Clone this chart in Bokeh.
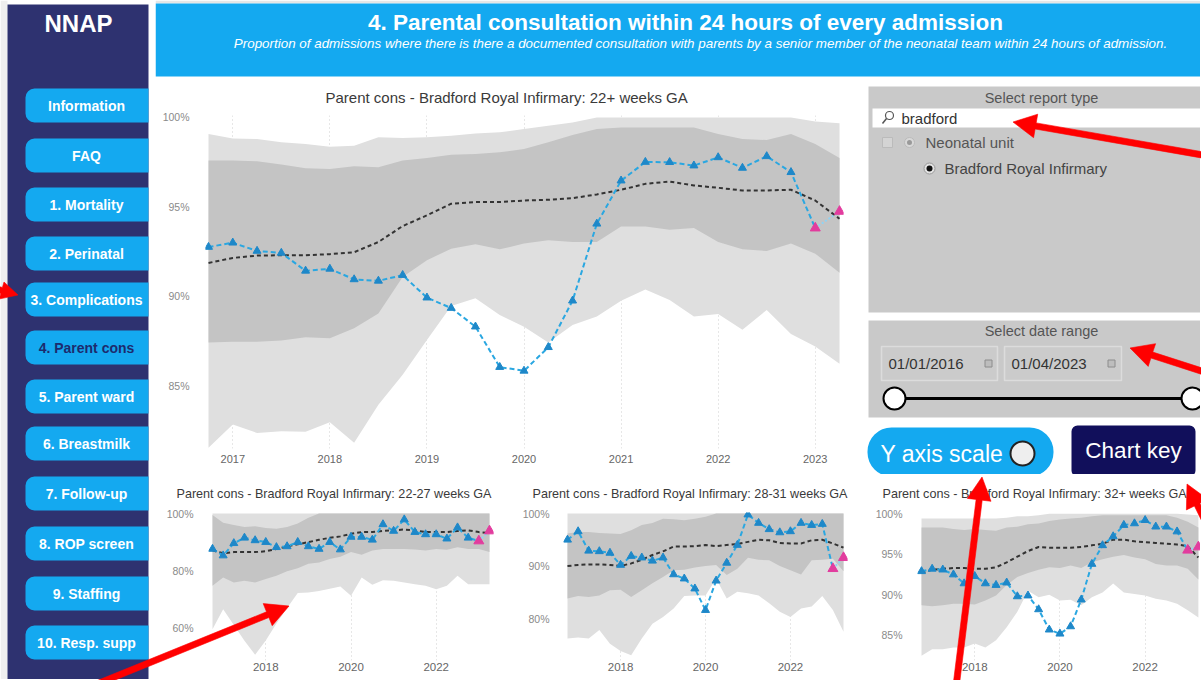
import math
from bokeh.plotting import figure
from bokeh.models import Range1d, FixedTicker, PrintfTickFormatter, Div
from bokeh.layouts import row, column
from bokeh.embed import file_html
from bokeh.resources import INLINE
from bokeh.core.properties import value

FONT = "Liberation Sans"

# ---------------- data ----------------
quarters = ["2016-10", "2017-01", "2017-04", "2017-07", "2017-10", "2018-01", "2018-04",
            "2018-07", "2018-10", "2019-01", "2019-04", "2019-07", "2019-10", "2020-01",
            "2020-04", "2020-07", "2020-10", "2021-01", "2021-04", "2021-07", "2021-10",
            "2022-01", "2022-04", "2022-07", "2022-10", "2023-01", "2023-04"]
flagged_from = "2023-01"

# 22+ weeks GA
all_unit = [92.76, 93.0, 92.54, 92.43, 91.43, 91.54, 90.95, 90.87, 91.19, 89.93, 89.35, 88.31, 86.05,
            85.84, 87.16, 89.76, 94.06, 96.47, 97.51, 97.50, 97.31, 97.77, 97.18, 97.83, 96.94, 93.82, 94.75]
all_nat = [91.87, 92.15, 92.28, 92.30, 92.30, 92.36, 92.47, 93.04, 93.93, 94.53, 95.18, 95.27, 95.27,
           95.36, 95.40, 95.49, 95.70, 95.96, 96.29, 96.42, 96.20, 96.07, 95.92, 95.92, 95.96, 95.36, 94.34]
all_in_hi = [97.59, 97.59, 97.55, 97.37, 97.16, 97.12, 97.27, 97.22, 97.59, 97.74, 97.92, 97.96, 98.05,
             98.24, 98.61, 99.02, 99.35, 99.44, 99.44, 99.44, 99.44, 99.07, 98.79, 98.74, 99.07, 98.52, 97.74]
all_in_lo = [87.42, 87.46, 87.46, 87.53, 87.72, 87.66, 88.22, 89.05, 91.09, 92.02, 92.67, 92.91, 92.63,
             92.95, 93.14, 93.04, 93.04, 93.91, 93.91, 93.73, 93.82, 93.04, 92.63, 92.54, 92.95, 92.39, 91.32]
all_out_hi = [99.07, 98.83, 98.79, 98.61, 98.52, 98.37, 98.42, 98.89, 98.85, 98.89, 98.98, 99.11, 99.17,
              99.35, 99.54, 99.72, 100.0, 100.0, 100.0, 100.0, 100.0, 100.0, 100.0, 100.0, 100.0, 99.78, 99.67]
all_out_lo = [81.54, 82.84, 82.37, 82.47, 82.43, 82.97, 81.82, 83.95, 85.62, 87.57, 89.46, 89.89, 88.96,
              88.31, 87.42, 88.40, 88.87, 89.76, 90.39, 89.80, 88.87, 89.02, 88.13, 89.24, 87.90, 87.20, 86.23]

# 22-27 weeks GA
g1_unit = [87.6, 85.3, 89.6, 91.5, 90.6, 90.0, 88.2, 88.5, 90.0, 88.5, 87.6, 90.0, 87.4, 91.8,
           91.8, 90.8, 96.2, 93.9, 97.9, 93.5, 92.7, 92.7, 91.2, 95.1, 91.5, 90.4, 93.9]
g1_nat = [87.1, 86.1, 86.5, 86.5, 86.5, 86.8, 87.6, 88.5, 89.2, 90.0, 90.8, 91.5, 92.0, 92.9,
          93.5, 93.5, 93.9, 94.1, 94.4, 94.1, 93.5, 93.5, 93.5, 93.9, 94.1, 93.5, 93.2]
g1_in_hi = [99.5, 96.8, 96.0, 95.3, 95.5, 94.9, 94.7, 95.3, 96.5, 98.5, 100, 100, 100, 100,
            100, 100, 100, 100, 100, 100, 100, 100, 100, 100, 100, 100, 100]
g1_in_lo = [74.7, 77.6, 75.9, 76.5, 75.9, 77.1, 78.2, 79.8, 80.9, 82.4, 82.9, 84.1, 84.9, 86.5,
            85.6, 87.1, 87.6, 87.6, 87.6, 87.4, 87.1, 87.6, 87.3, 88.2, 87.6, 87.6, 86.5]
g1_out_hi = [100, 100, 100, 100, 100, 100, 100, 100, 100, 100, 100, 100, 100, 100,
             100, 100, 100, 100, 100, 100, 100, 100, 100, 100, 100, 100, 100]
g1_out_lo = [59.5, 66.5, 61.0, 55.5, 50.6, 55.6, 61.5, 67.0, 72.2, 72.4, 72.9, 73.7, 74.5, 71.2,
             77.6, 75.1, 76.7, 76.5, 75.9, 75.3, 74.7, 73.5, 74.7, 78.2, 75.3, 75.3, 75.3]

# 28-31 weeks GA
g2_unit = [95.0, 96.6, 92.9, 92.8, 92.5, 90.2, 91.9, 91.6, 91.0, 91.6, 88.4, 87.6, 85.7, 81.6,
           87.2, 90.6, 94.0, 99.8, 98.2, 97.0, 96.4, 96.6, 98.2, 97.8, 98.0, 89.5, 91.6]
g2_nat = [90.0, 90.2, 90.3, 90.3, 90.2, 90.0, 90.5, 91.2, 92.1, 92.8, 93.7, 93.7, 93.8, 94.0,
          93.8, 94.0, 94.2, 94.6, 95.0, 94.9, 94.4, 94.3, 94.3, 94.9, 95.0, 94.3, 93.5]
g2_in_hi = [96.2, 96.5, 96.5, 96.3, 96.2, 96.1, 96.8, 97.8, 98.2, 99.0, 98.9, 98.7, 99.0, 99.4,
            100, 100, 100, 100, 100, 100, 100, 100, 100, 100, 100, 100, 100]
g2_in_lo = [83.8, 84.3, 84.1, 84.4, 85.4, 85.5, 84.1, 85.4, 86.7, 87.9, 89.2, 89.3, 89.7, 90.0,
            90.2, 88.3, 89.5, 91.6, 91.2, 91.1, 90.0, 89.2, 88.4, 91.1, 91.2, 91.4, 89.0]
g2_out_hi = [100, 100, 100, 100, 100, 100, 100, 100, 100, 100, 100, 100, 100, 100,
             100, 100, 100, 100, 100, 100, 100, 100, 100, 100, 100, 100, 100]
g2_out_lo = [76.2, 76.4, 76.2, 77.8, 75.2, 73.8, 73.0, 76.2, 79.0, 80.3, 81.9, 84.3, 84.4, 84.4,
             87.6, 83.8, 85.1, 84.8, 84.4, 82.9, 81.3, 80.3, 81.9, 82.3, 84.3, 81.6, 77.5]

# 32+ weeks GA
g3_unit = [92.9, 93.2, 93.1, 92.5, 91.4, 92.3, 91.4, 91.2, 91.5, 89.8, 89.9, 88.2, 85.7, 85.2,
           86.1, 89.4, 93.8, 96.1, 97.2, 98.6, 98.8, 99.2, 98.4, 98.4, 97.8, 95.5, 95.9]
g3_nat = [92.7, 93.1, 93.2, 93.3, 93.3, 93.2, 93.2, 93.4, 94.0, 94.7, 95.4, 95.9, 95.8, 95.8,
          95.8, 95.9, 96.1, 96.3, 96.8, 96.8, 96.6, 96.5, 96.4, 96.3, 96.2, 96.0, 94.6]
g3_in_hi = [98.3, 98.3, 98.3, 98.1, 98.0, 98.1, 98.0, 97.9, 98.3, 98.4, 98.7, 98.8, 99.1, 99.3,
            99.4, 99.5, 99.7, 99.8, 99.8, 99.8, 99.8, 99.8, 99.8, 99.8, 99.5, 99.0, 98.3]
g3_in_lo = [88.7, 88.6, 88.7, 88.9, 88.9, 88.8, 89.3, 89.9, 91.2, 92.2, 92.7, 93.1, 93.4, 93.3,
            93.6, 93.3, 94.0, 94.4, 94.7, 94.9, 94.6, 94.4, 93.8, 93.6, 93.6, 93.2, 91.9]
g3_out_hi = [99.4, 99.4, 99.4, 99.4, 99.4, 99.4, 99.4, 99.4, 99.5, 99.7, 99.7, 99.8, 100, 100,
             100, 100, 100, 100, 100, 100, 100, 100, 100, 100, 100, 99.9, 99.8]
g3_out_lo = [82.5, 83.3, 83.3, 83.5, 83.5, 84.0, 83.5, 84.4, 86.0, 87.9, 90.5, 89.7, 90.0, 89.3,
             89.4, 88.7, 89.7, 90.3, 91.4, 90.3, 90.1, 89.9, 89.5, 89.3, 88.9, 88.1, 87.2]

main_years = [2017, 2018, 2019, 2020, 2021, 2022, 2023]
small_years = [2018, 2020, 2022]

nav_labels = ["Information", "FAQ", "1. Mortality", "2. Perinatal", "3. Complications",
              "4. Parent cons", "5. Parent ward", "6. Breastmilk", "7. Follow-up",
              "8. ROP screen", "9. Staffing", "10. Resp. supp"]
active_nav = "4. Parent cons"

xs = [int(q[:4]) + (int(q[5:]) - 1) / 12 for q in quarters]
k = quarters.index(flagged_from)

# ---------------- helpers ----------------
# red call-out arrows of the screenshot (page pixel positions: tail -> tip, head length)
ARROWS = [((-45, 274), (13, 290), 17), ((65, 690), (284, 601), 23), ((1215, 153), (1008, 117), 23),
          ((1215, 372), (1125, 343), 23), ((950, 690), (977, 472), 23), ((1212, 540), (1182, 479), 23)]


def arrow_outline(t, hd, L):
    dx, dy = hd[0] - t[0], hd[1] - t[1]
    d = math.hypot(dx, dy)
    ux, uy = dx / d, dy / d
    nx, ny = -uy, ux
    bx, by = hd[0] - L * ux, hd[1] - L * uy
    sw, hw = 3.1, L * 0.52
    return [(t[0] + sw * nx, t[1] + sw * ny), (bx + sw * nx, by + sw * ny), (bx + hw * nx, by + hw * ny),
            hd, (bx - hw * nx, by - hw * ny), (bx - sw * nx, by - sw * ny), (t[0] - sw * nx, t[1] - sw * ny)]


def deco(left, top, w, h):
    p = figure(width=w, height=h, x_range=Range1d(left, left + w), y_range=Range1d(top + h, top),
               output_backend="svg", toolbar_location=None, min_border=0,
               x_axis_location=None, y_axis_location=None, frame_align=False)
    p.xgrid.visible = False
    p.ygrid.visible = False
    p.outline_line_color = None
    return p


def chart(geom, xr, yr, title, tleft, tsize, tstand, yticks, xticks, unit, nat, in_lo, in_hi, out_lo, out_hi,
          ystand, xstand, ysize, xsize):
    fx, fy, w, h, ml, mr, mt, mb = geom
    p = figure(width=w, height=h, x_range=Range1d(*xr), y_range=Range1d(*yr),
               output_backend="svg", toolbar_location=None, frame_align=False,
               min_border_left=ml, min_border_right=mr, min_border_top=mt, min_border_bottom=mb)
    p.outline_line_color = None
    p.title.text = title
    p.title.align = "left"
    p.title.vertical_align = "top"
    p.title.offset = tleft - (fx + ml)
    p.title.standoff = tstand
    p.title.text_font = FONT
    p.title.text_font_size = tsize
    p.title.text_font_style = "normal"
    p.title.text_color = "#3a3a3a"
    p.varea(x=xs, y1=out_lo, y2=out_hi, fill_color="#DFDFDF")
    p.varea(x=xs, y1=in_lo, y2=in_hi, fill_color="#C4C4C4")
    p.line(xs, nat, line_color="#333333", line_dash="4 3", line_width=2)
    p.line(xs[:k + 1], unit[:k + 1], line_color="#2AA7E1", line_dash="5 3", line_width=2)
    p.line(xs[k:], unit[k:], line_color="#8FD3F4", line_dash="2 2", line_width=2)
    p.scatter(xs[:k], unit[:k], marker="triangle", size=8, color="#1E88C9")
    p.scatter(xs[k:], unit[k:], marker="triangle", size=10, color="#E23C9E")
    for ax in (p.xaxis, p.yaxis):
        ax.axis_line_color = None
        ax.major_tick_line_color = None
        ax.minor_tick_line_color = None
        ax.major_tick_out = 0
        ax.major_tick_in = 0
        ax.minor_tick_out = 0
        ax.major_label_text_font = FONT
    p.yaxis.ticker = FixedTicker(ticks=yticks)
    p.yaxis.formatter = PrintfTickFormatter(format="%d%%")
    p.yaxis.major_label_standoff = ystand
    p.yaxis.major_label_text_font_size = ysize
    p.yaxis.major_label_text_color = "#8a8a8a"
    p.xaxis.ticker = FixedTicker(ticks=xticks)
    p.xaxis.formatter = PrintfTickFormatter(format="%d")
    p.xaxis.major_label_standoff = xstand
    p.xaxis.major_label_text_font_size = xsize
    p.xaxis.major_label_text_color = "#666666"
    p.xgrid.grid_line_color = "#CFCFCF"
    p.xgrid.grid_line_dash = "1 3"
    p.ygrid.visible = False
    return p


# ---------------- sidebar ----------------
side = deco(0, 0, 155, 679)
side.quad(left=0, right=7, top=0, bottom=680, fill_color="#EFEFEF", line_color=None, level="underlay")
side.quad(left=7, right=148, top=4, bottom=680, fill_color="#2E3270", line_color=None, level="underlay")
side.text(x=[78], y=[23], text=["NNAP"], text_font=value(FONT), text_font_style="bold",
          text_font_size="24px", text_color="white", text_align="center", text_baseline="middle")
nav_y = [105, 155, 204, 253, 299, 347, 396, 443, 493, 543, 593, 642]
side.quad(left=[25] * 12, right=[148] * 12, top=[y - 17 for y in nav_y], bottom=[y + 17 for y in nav_y],
          fill_color="#14A9F0", line_color=None, border_radius=(9, 0, 0, 9))
side.text(x=[86] * 12, y=nav_y, text=nav_labels, text_font=value(FONT), text_font_style="bold",
          text_font_size="14px",
          text_color=["#1D2B6E" if t == active_nav else "white" for t in nav_labels],
          text_align="center", text_baseline="middle")

# ---------------- header ----------------
head = deco(155, 0, 1045, 78)
head.quad(left=155, right=1201, top=0, bottom=3, fill_color="#E6E6E6", line_color=None, level="underlay")
head.quad(left=155, right=1201, top=3, bottom=76, fill_color="#14A9F0", line_color=None, level="underlay")
head.text(x=[685], y=[22], text=["4. Parental consultation within 24 hours of every admission"],
          text_font=value(FONT), text_font_style="bold",
          text_font_size="22.5px", text_color="white", text_align="center", text_baseline="middle")
head.text(x=[700], y=[43], text=["Proportion of admissions where there is there a documented consultation "
                                 "with parents by a senior member of the neonatal team within 24 hours of admission."],
          text_font=value(FONT), text_font_style="italic",
          text_font_size="13.4px", text_color="white", text_align="center", text_baseline="middle")

# ---------------- main chart ----------------
g_main = (155, 78, 710, 396, 50, 22, 37, 26)
xr_main = (2016.719, 2023.291)
yr_main = (81.5, 100.11)
main = chart(g_main, xr_main, yr_main, "Parent cons - Bradford Royal Infirmary: 22+ weeks GA", 325, "15px", 15,
             [85, 90, 95, 100], main_years, all_unit, all_nat, all_in_lo, all_in_hi, all_out_lo, all_out_hi,
             16, 6, "10.5px", "11px")

# ---------------- right panel ----------------
pan = deco(865, 78, 335, 396)
GRAY = "#C9C9C9"
pan.quad(left=868, right=1201, top=86, bottom=312, fill_color=GRAY, line_color=None, level="underlay")
pan.text(x=[1041], y=[97], text=["Select report type"], text_font=value(FONT), text_font_size="14.5px",
         text_color="#555555", text_align="center", text_baseline="middle")
pan.quad(left=872, right=1201, top=108, bottom=127, fill_color="white", line_color=None, level="underlay")
pan.scatter(x=[889], y=[115], marker="circle", size=8, fill_color=None, line_color="#555555", line_width=1.2)
pan.segment(x0=[886], y0=[118], x1=[882], y1=[123], line_color="#555555", line_width=1.5)
pan.text(x=[901], y=[117.5], text=["bradford"], text_font=value(FONT), text_font_size="15px",
         text_color="#333333", text_align="left", text_baseline="middle")
pan.scatter(x=[887], y=[142], marker="square", size=10, fill_color="#D4D4D4", line_color="#BBBBBB")
pan.scatter(x=[909], y=[142], marker="circle", size=10, fill_color="#D8D8D8", line_color="#BBBBBB")
pan.scatter(x=[909], y=[142], marker="circle", size=5, fill_color="#999999", line_color=None)
pan.text(x=[925], y=[142], text=["Neonatal unit"], text_font=value(FONT), text_font_size="15px",
         text_color="#555555", text_align="left", text_baseline="middle")
pan.scatter(x=[929], y=[168], marker="circle", size=11, fill_color="#E2E2E2", line_color="#999999")
pan.scatter(x=[929], y=[168], marker="circle", size=6, fill_color="#111111", line_color=None)
pan.text(x=[944], y=[168], text=["Bradford Royal Infirmary"], text_font=value(FONT), text_font_size="15px",
         text_color="#444444", text_align="left", text_baseline="middle")

pan.quad(left=868, right=1201, top=320, bottom=417, fill_color=GRAY, line_color=None, level="underlay")
pan.text(x=[1041], y=[330], text=["Select date range"], text_font=value(FONT), text_font_size="14.5px",
         text_color="#555555", text_align="center", text_baseline="middle")
pan.quad(left=[881, 1004], right=[997, 1121], top=[346, 346], bottom=[380, 380],
         fill_color="#CBCBCB", line_color="#DCDCDC", line_width=1.5, level="underlay")
pan.text(x=[888, 1011], y=[363, 363], text=["01/01/2016", "01/04/2023"], text_font=value(FONT),
         text_font_size="15px", text_color="#333333", text_align="left", text_baseline="middle")
pan.scatter(x=[988, 1111], y=[363, 363], marker="square", size=7, fill_color="#BDBDBD", line_color="#8C8C8C")
pan.segment(x0=[893], y0=[398], x1=[1193], y1=[398], line_color="black", line_width=3)
pan.scatter(x=[894, 1192], y=[398, 398], marker="circle", size=22, fill_color="white", line_color="black",
            line_width=2)

pan.quad(left=867, right=1053, top=427, bottom=476, fill_color="#14A9F0", line_color=None, border_radius=24,
         level="underlay")
pan.text(x=[880], y=[453], text=["Y axis scale"], text_font=value(FONT), text_font_size="23px",
         text_color="white", text_align="left", text_baseline="middle")
pan.scatter(x=[1022], y=[453], marker="circle", size=24, fill_color="#EEEEEE", line_color="#222222",
            line_width=2)
pan.quad(left=1071, right=1195, top=425, bottom=476, fill_color="#110F5B", line_color=None, border_radius=6,
         level="underlay")
pan.text(x=[1133], y=[450], text=["Chart key"], text_font=value(FONT), text_font_size="22.5px",
         text_color="white", text_align="center", text_baseline="middle")

# ---------------- small charts ----------------
g1 = (155, 474, 345, 205, 53, 7, 38, 19)
xr1 = (2016.656, 2023.344)
yr1 = (48.6, 100.35)
c1 = chart(g1, xr1, yr1, "Parent cons - Bradford Royal Infirmary: 22-27 weeks GA", 176, "12.6px", 19,
           [60, 80, 100], small_years, g1_unit, g1_nat, g1_in_lo, g1_in_hi, g1_out_lo, g1_out_hi,
           15, 2, "10.5px", "11.5px")

g2 = (500, 474, 360, 205, 63, 13, 38, 19)
xr2 = (2016.656, 2023.344)
yr2 = (72.0, 100.2)
c2 = chart(g2, xr2, yr2, "Parent cons - Bradford Royal Infirmary: 28-31 weeks GA", 532, "12.6px", 19,
           [80, 90, 100], small_years, g2_unit, g2_nat, g2_in_lo, g2_in_hi, g2_out_lo, g2_out_hi,
           14, 2, "10.5px", "11.5px")

g3 = (860, 474, 340, 205, 57, 0, 38, 19)
xr3 = (2016.656, 2023.30)
yr3 = (81.9, 100.15)
c3 = chart(g3, xr3, yr3, "Parent cons - Bradford Royal Infirmary: 32+ weeks GA", 882, "12.6px", 19,
           [85, 90, 95, 100], small_years, g3_unit, g3_nat, g3_in_lo, g3_in_hi, g3_out_lo, g3_out_hi,
           15, 2, "10.5px", "11.5px")

# ---------------- red call-out arrows as a page overlay ----------------
polys = "".join(
    '<polygon points="%s" fill="#FF0000" stroke="#FF0000" stroke-width="0.6" stroke-linejoin="round"/>'
    % " ".join("%.1f,%.1f" % pt for pt in arrow_outline(t, hd, L))
    for (t, hd, L) in ARROWS)
overlay = Div(text='<svg xmlns="http://www.w3.org/2000/svg" width="1201" height="680" '
                   'style="position:absolute;left:0;top:0;overflow:visible">' + polys + '</svg>',
              width=0, height=0,
              styles={"position": "absolute", "left": "0px", "top": "0px", "overflow": "visible",
                      "z-index": "10", "pointer-events": "none"})

right = column(head, row(main, pan, spacing=0), row(c1, c2, c3, spacing=0), spacing=0)
layout = row(side, right, overlay, spacing=0)

open("out.html", "w").write(file_html(layout, INLINE))
